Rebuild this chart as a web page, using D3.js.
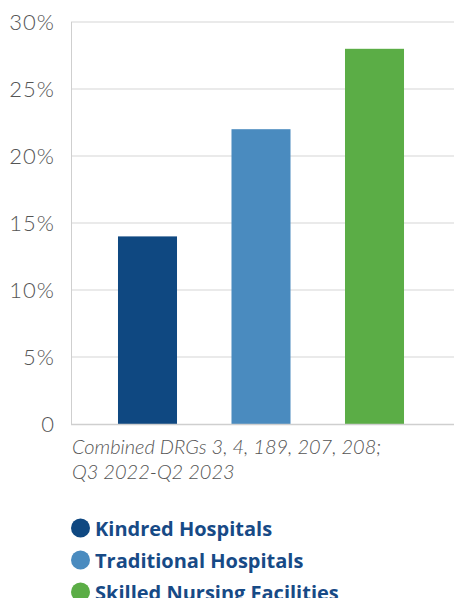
<!DOCTYPE html>
<html>
<head>
<meta charset="utf-8">
<script src="https://cdn.jsdelivr.net/npm/d3@7"></script>
<style>
  html, body { margin: 0; padding: 0; background: #fff; overflow: hidden; }
</style>
</head>
<body>
<div id="chart"></div>
<script>
const categories = ['Kindred Hospitals', 'Traditional Hospitals', 'Skilled Nursing Facilities'];
const values = [14, 22, 28];
const colors = ['#0f4881', '#4a8bbf', '#5bad46'];
const tickValues = [0, 5, 10, 15, 20, 25, 30];
const captionLines = ['Combined DRGs 3, 4, 189, 207, 208;', 'Q3 2022-Q2 2023'];

const width = 454;
const height = 598;

const svg = d3.select('#chart')
  .append('svg')
  .attr('width', width)
  .attr('height', height);

const x = d3.scaleBand()
  .domain(categories)
  .range([71, 451])
  .paddingInner(0.48)
  .paddingOuter(0.414);

const y = d3.scaleLinear().domain([0, 30]).range([424, 22]);

// gridlines
svg.selectAll('.grid')
  .data(tickValues.filter(d => d > 0))
  .enter()
  .append('line')
  .attr('x1', 71)
  .attr('x2', width)
  .attr('y1', d => y(d))
  .attr('y2', d => y(d))
  .attr('stroke', '#e3e3e3')
  .attr('stroke-width', 1.5);

// y axis labels
svg.selectAll('.tick-label')
  .data(tickValues)
  .enter()
  .append('text')
  .attr('x', 55)
  .attr('y', d => y(d) + 8)
  .attr('text-anchor', 'end')
  .attr('font-family', 'Lato, sans-serif')
  .attr('font-weight', 300)
  .attr('font-size', 22)
  .attr('letter-spacing', 1)
  .attr('fill', '#555')
  .text(d => d === 0 ? '0' : d + '%');

// bars
svg.selectAll('.bar')
  .data(categories)
  .enter()
  .append('rect')
  .attr('x', d => x(d))
  .attr('y', (d, i) => y(values[i]))
  .attr('width', x.bandwidth())
  .attr('height', (d, i) => y(0) - y(values[i]))
  .attr('fill', (d, i) => colors[i]);

// axis lines
svg.append('line')
  .attr('x1', 71.5).attr('x2', 71.5)
  .attr('y1', 22).attr('y2', 424.5)
  .attr('stroke', '#cfcfcf').attr('stroke-width', 1);
svg.append('line')
  .attr('x1', 71).attr('x2', width)
  .attr('y1', 424.5).attr('y2', 424.5)
  .attr('stroke', '#cfcfcf').attr('stroke-width', 1.5);

// caption
svg.selectAll('.caption')
  .data(captionLines)
  .enter()
  .append('text')
  .attr('x', 72)
  .attr('y', (d, i) => 454 + i * 25)
  .attr('font-family', 'Lato, sans-serif')
  .attr('font-style', 'italic')
  .attr('font-weight', 300)
  .attr('font-size', 20)
  .attr('fill', '#555')
  .text(d => d);

// legend
const legend = svg.selectAll('.legend')
  .data(categories)
  .enter()
  .append('g')
  .attr('transform', (d, i) => `translate(80.5, ${528 + i * 32})`);

legend.append('circle')
  .attr('r', 9.5)
  .attr('fill', (d, i) => colors[i]);

legend.append('text')
  .attr('x', 14.5)
  .attr('y', 8)
  .attr('font-family', '"Open Sans", sans-serif')
  .attr('font-weight', 700)
  .attr('font-size', 20)
  .attr('fill', '#174a86')
  .text(d => d);
</script>
</body>
</html>
